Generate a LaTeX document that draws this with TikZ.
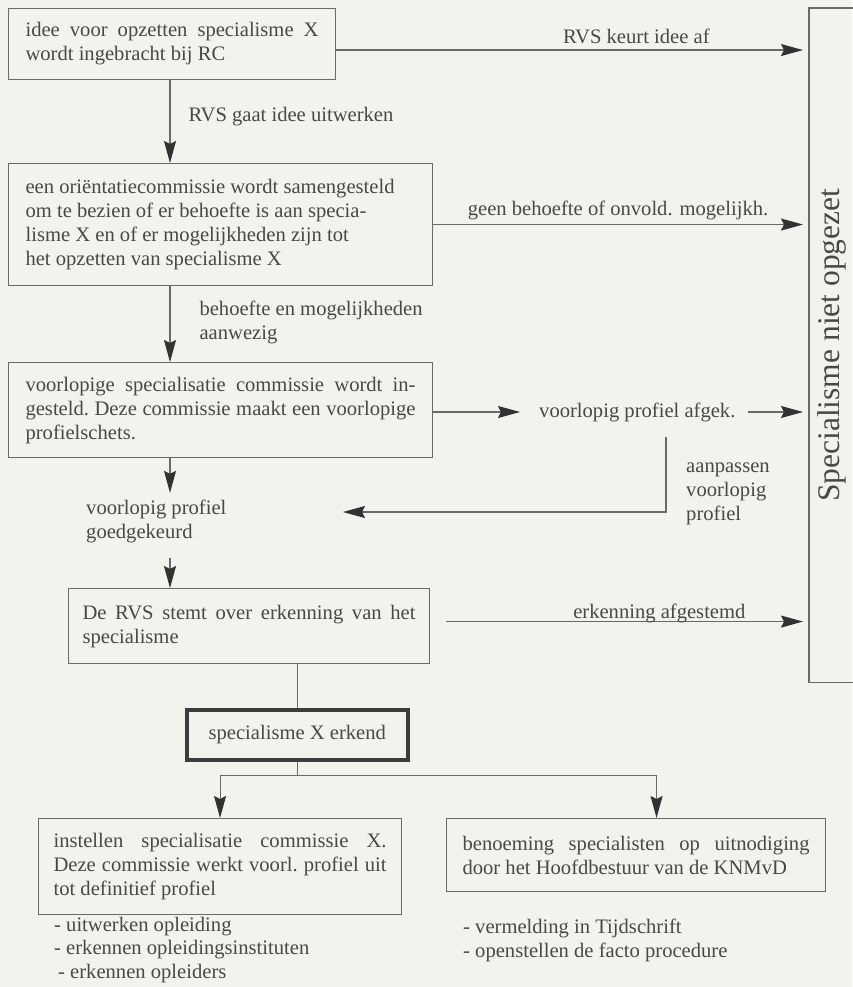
\documentclass[tikz,border=0pt]{standalone}
\usepackage{fontspec}
\usepackage{graphicx}
\setmainfont{Liberation Serif}
\usetikzlibrary{arrows.meta,calc}
\definecolor{bgcol}{RGB}{242,243,239}
\definecolor{lncol}{RGB}{105,105,105}
\definecolor{txtcol}{RGB}{72,72,72}
\definecolor{tipcol}{RGB}{50,50,50}
\definecolor{thickcol}{RGB}{60,60,60}
\newcommand\dfs{\fontsize{20.6}{24}\selectfont}
\newcommand\nsp{\spaceskip=0pt\xspaceskip=0pt\relax}
\newcommand\jline[2]{\makebox[#1][s]{\spaceskip=.25em plus 10em minus .12em\xspaceskip=\spaceskip\relax #2}}
\begin{document}
\begin{tikzpicture}[x=1pt,y=-1pt,
  every node/.style={text=txtcol, font=\dfs},
  box/.style={draw=lncol, line width=1.1pt, anchor=north west, inner ysep=0pt, align=left},
  ln/.style={draw=lncol, line width=1.1pt},
  arr/.style={ln, -{Stealth[length=22pt,width=12pt,inset=3pt,color=tipcol]}},
  lbl/.style={inner sep=0pt, align=left},
]
\fill[bgcol] (0,0) rectangle (852,987);
\useasboundingbox (0,0) rectangle (852,987);
\coordinate (cx) at (170,0);

% boxes
\node[box, inner xsep=17pt, text width=293pt, minimum height=71pt] (b1) at (8,8)
  {\nsp\jline{293pt}{idee voor opzetten specialisme X}\\wordt ingebracht bij RC};
\node[box, inner xsep=17pt, text width=390pt, minimum height=122pt] (b2) at (8,163)
  {\nsp een oriëntatiecommissie wordt samengesteld\\om te bezien of er behoefte is aan specia-\\lisme X en of er mogelijkheden zijn tot\\het opzetten van specialisme X};
\node[box, inner xsep=17pt, text width=390pt, minimum height=95pt] (b3) at (8,362)
  {\nsp\jline{390pt}{voorlopige specialisatie commissie wordt in-}\\\jline{390pt}{gesteld. Deze commissie maakt een voorlopige}\\profielschets.};
\node[box, inner xsep=14pt, text width=333pt, minimum height=75pt] (b4) at (68,588)
  {\nsp\jline{333pt}{De RVS stemt over erkenning van het}\\specialisme};
\node[draw=thickcol, line width=3.5pt, anchor=north west, minimum width=221pt, minimum height=50pt, inner sep=0pt] (b5) at (185,708)
  {specialisme X erkend};
\node[box, inner xsep=15pt, text width=333pt, minimum height=96pt] (b6) at (38,818)
  {\nsp\jline{333pt}{instellen specialisatie commissie X.}\\\jline{333pt}{Deze commissie werkt voorl. profiel uit}\\tot definitief profiel};
\node[box, inner xsep=16pt, text width=347pt, minimum height=73pt] (b7) at (446,818)
  {\nsp\jline{347pt}{benoeming specialisten op uitnodiging}\\door het Hoofdbestuur van de KNMvD};

% right box
\node[anchor=north west, minimum width=45pt, minimum height=674pt, inner sep=0pt] (niet) at (809,8)
  {\rotatebox{90}{\fontsize{31.5}{36}\selectfont Specialisme niet opgezet}};
\draw[ln] (niet.north east) -- (niet.north west) -- (niet.south west) -- (niet.south east);

% labels
\node[lbl, anchor=west] (afgek) at (539,412) {\nsp voorlopig profiel afgek.};
\node[lbl, anchor=west] (aanp) at (686,494) {aanpassen\\voorlopig\\profiel};
\node[lbl, anchor=west] (goed) at (86,521.5) {\nsp voorlopig profiel\\goedgekeurd};
\node[lbl, anchor=west, font=\fontsize{20.6}{23.5}\selectfont] (bl) at (54,950)
  {\nsp - uitwerken opleiding\\- erkennen opleidingsinstituten\\\hspace*{4pt}- erkennen opleiders};
\node[lbl, anchor=west, font=\fontsize{20.6}{23.5}\selectfont] (br) at (463,940.5)
  {\nsp - vermelding in Tijdschrift\\- openstellen de facto procedure};

% connectors
\draw[arr, shorten >=6pt] ([yshift=-6pt]b1.east) -- ([yshift=-6pt]b1.east -| niet.west)
  node[lbl, pos=.635, anchor=base, yshift=7pt] {\nsp RVS keurt idee af};
\draw[arr] (b1.south -| cx) -- (b2.north -| cx)
  node[lbl, pos=.44, anchor=west, xshift=18pt] {\nsp RVS gaat idee uitwerken};
\draw[arr, shorten >=6pt] (b2.east) -- (b2.east -| niet.west)
  node[lbl, pos=.492, anchor=base, yshift=9pt] {\nsp geen behoefte of onvold. mogelijkh.};
\draw[arr] (b2.south -| cx) -- (b3.north -| cx)
  node[lbl, pos=.48, anchor=west, xshift=29pt] {\nsp behoefte en mogelijkheden\\aanwezig};
\draw[arr, shorten >=19pt] (b3.east |- afgek.west) -- (afgek.west);
\draw[arr, shorten <=12pt, shorten >=6pt] (afgek.east) -- (afgek.east -| niet.west);
\coordinate (fbtop) at (666,437);
\coordinate (fbend) at (343,512);
\draw[arr] (fbtop) |- (fbend);
\draw[arr, shorten >=7pt] (b3.south -| cx) -- (goed.north -| cx);
\draw[arr, shorten <=15pt] (goed.south -| cx) -- (b4.north -| cx);
\draw[arr, shorten <=16pt, shorten >=6pt] ([yshift=4.5pt]b4.east) -- ([yshift=4.5pt]b4.east -| niet.west)
  node[lbl, pos=.605, anchor=base, yshift=3pt] {\nsp erkenning afgestemd};
\draw[ln] (b4.south -| b5.north) -- (b5.north);
\draw[ln] (b5.south) -- ++(0,14) coordinate (split);
\draw[arr] (split) -| (b6.north);
\draw[arr] (split) -| ([xshift=20.5pt]b7.north);
\end{tikzpicture}
\end{document}
